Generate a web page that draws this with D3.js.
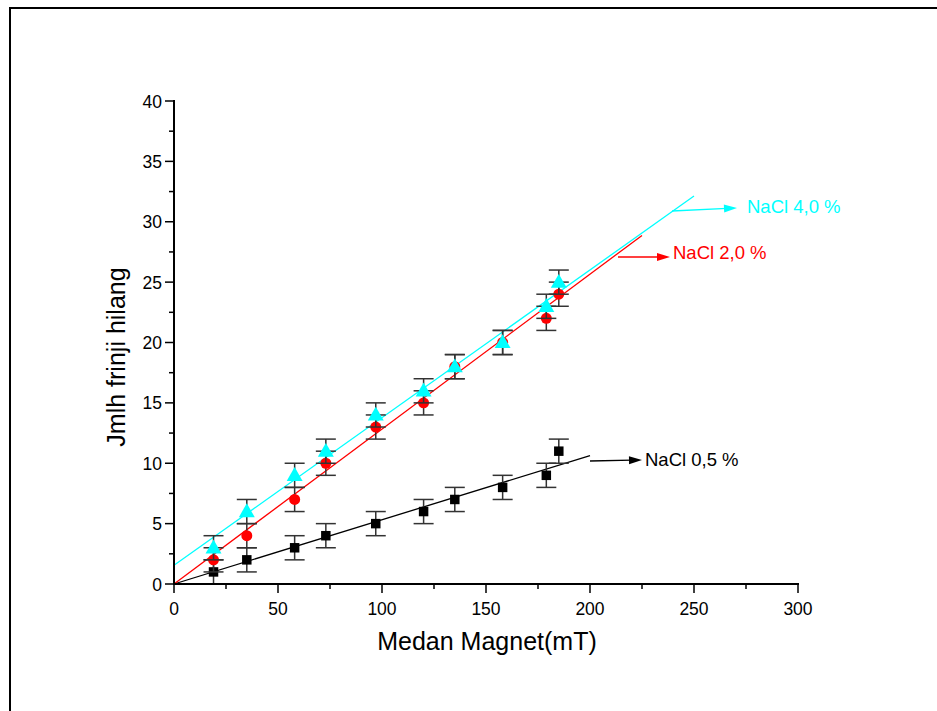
<!DOCTYPE html>
<html>
<head>
<meta charset="utf-8">
<script src="https://cdn.jsdelivr.net/npm/d3@7"></script>
<style>
  body { margin: 0; background: #fff; }
  svg { display: block; font-family: "Liberation Sans", Arial, sans-serif; }
</style>
</head>
<body>
<div id="chart"></div>
<script>
// magnetic field (mT) for every measurement
var medan = [19, 35, 58, 73, 97, 120, 135, 158, 179, 185];
// lost fringes per NaCl concentration
var nacl05 = [1, 2, 3, 4, 5, 6, 7, 8, 9, 11];
var nacl20 = [2, 4, 7, 10, 13, 15, 18, 20, 22, 24];
var nacl40 = [3, 6, 9, 11, 14, 16, 18, 20, 23, 25];
var errY = 1;
// linear fit: [slope, intercept, x end]
var fit05 = [0.0532, 0, 200];
var fit20 = [0.1283, 0, 225];
var fit40 = [0.1223, 1.55, 250];
var xTicks = [0, 50, 100, 150, 200, 250, 300];
var yTicks = [0, 5, 10, 15, 20, 25, 30, 35, 40];

var width = 937, height = 711;
var svg = d3.select('#chart').append('svg')
  .attr('width', width)
  .attr('height', height);

// outer frame (only top and left edges visible)
svg.append('path')
  .attr('d', 'M10,711 V8 H937')
  .attr('fill', 'none')
  .attr('stroke', '#000')
  .attr('stroke-width', 2);

var x = d3.scaleLinear().domain([0, 300]).range([174, 798]);
var y = d3.scaleLinear().domain([0, 40]).range([584, 101]);

var series = [
  { vals: nacl05, fit: fit05, color: '#000000', shape: d3.symbolSquare, size: 90, name: 'NaCl 0,5 %' },
  { vals: nacl20, fit: fit20, color: '#ff0000', shape: d3.symbolCircle, size: 95, name: 'NaCl 2,0 %' },
  { vals: nacl40, fit: fit40, color: '#00ffff', shape: d3.symbolTriangle, size: 110, name: 'NaCl 4,0 %' }
];

// fit lines
series.forEach(function(s) {
  svg.append('line')
    .attr('x1', x(0)).attr('y1', y(s.fit[1]))
    .attr('x2', x(s.fit[2])).attr('y2', y(s.fit[1] + s.fit[0] * s.fit[2]))
    .attr('stroke', s.color)
    .attr('stroke-width', 1.3);
});

// error bars + markers
series.forEach(function(s) {
  var g = svg.append('g');
  s.vals.forEach(function(v, i) {
    var cx = x(medan[i]);
    g.append('line')
      .attr('x1', cx).attr('x2', cx)
      .attr('y1', y(v - errY)).attr('y2', y(v + errY))
      .attr('stroke', '#333').attr('stroke-width', 1.5);
    [v - errY, v + errY].forEach(function(e) {
      g.append('line')
        .attr('x1', cx - 10).attr('x2', cx + 10)
        .attr('y1', y(e)).attr('y2', y(e))
        .attr('stroke', '#333').attr('stroke-width', 1.5);
    });
  });
  g.selectAll('path.pt').data(s.vals).enter().append('path')
    .attr('class', 'pt')
    .attr('d', d3.symbol().type(s.shape).size(s.size))
    .attr('transform', function(d, i) {
      var dy = s.shape === d3.symbolTriangle ? 1 : 0;
      return 'translate(' + x(medan[i]) + ',' + (y(d) + dy) + ')';
    })
    .attr('fill', s.color);
});

// axes
var xAxis = svg.append('g').attr('transform', 'translate(0,584)');
xAxis.append('line').attr('x1', 173).attr('x2', 799).attr('y1', 0).attr('y2', 0)
  .attr('stroke', '#000').attr('stroke-width', 2);
d3.range(0, 301, 25).forEach(function(t) {
  xAxis.append('line').attr('x1', x(t)).attr('x2', x(t)).attr('y1', 0)
    .attr('y2', t % 50 === 0 ? 9 : 5)
    .attr('stroke', '#000').attr('stroke-width', 1.5);
});
xAxis.selectAll('text').data(xTicks).enter().append('text')
  .attr('x', function(d) { return x(d); })
  .attr('y', 31)
  .attr('text-anchor', 'middle')
  .attr('font-size', 17.5)
  .text(function(d) { return d; });

var yAxis = svg.append('g').attr('transform', 'translate(174,0)');
yAxis.append('line').attr('x1', 0).attr('x2', 0).attr('y1', 100).attr('y2', 585)
  .attr('stroke', '#000').attr('stroke-width', 2);
d3.range(0, 40.1, 2.5).forEach(function(t) {
  yAxis.append('line').attr('x1', 0).attr('x2', t % 5 === 0 ? -9 : -5)
    .attr('y1', y(t)).attr('y2', y(t))
    .attr('stroke', '#000').attr('stroke-width', 1.5);
});
yAxis.selectAll('text').data(yTicks).enter().append('text')
  .attr('x', -12)
  .attr('y', function(d) { return y(d) + 6.5; })
  .attr('text-anchor', 'end')
  .attr('font-size', 17.5)
  .text(function(d) { return d; });

// axis titles
svg.append('text')
  .attr('x', 487).attr('y', 650)
  .attr('text-anchor', 'middle')
  .attr('font-size', 25)
  .text('Medan Magnet(mT)');
svg.append('text')
  .attr('transform', 'translate(125,357) rotate(-90)')
  .attr('text-anchor', 'middle')
  .attr('font-size', 25)
  .text('Jmlh frinji hilang');

// labels with arrows
var labels = [
  { s: series[0], x1: 590, y1: 461, x2: 642, y2: 460, tx: 645, ty: 466 },
  { s: series[1], x1: 618, y1: 257, x2: 670, y2: 257, tx: 673, ty: 259 },
  { s: series[2], x1: 672, y1: 211, x2: 737, y2: 208, tx: 747, ty: 213 }
];
labels.forEach(function(l) {
  var ang = Math.atan2(l.y2 - l.y1, l.x2 - l.x1);
  svg.append('line')
    .attr('x1', l.x1).attr('y1', l.y1).attr('x2', l.x2 - 10 * Math.cos(ang)).attr('y2', l.y2 - 10 * Math.sin(ang))
    .attr('stroke', l.s.color).attr('stroke-width', 1.3);
  svg.append('path')
    .attr('d', 'M0,0 L-13,-4 L-13,4 Z')
    .attr('transform', 'translate(' + l.x2 + ',' + l.y2 + ') rotate(' + (ang * 180 / Math.PI) + ')')
    .attr('fill', l.s.color);
  svg.append('text')
    .attr('x', l.tx).attr('y', l.ty)
    .attr('font-size', 18.5)
    .attr('fill', l.s.color)
    .text(l.s.name);
});
</script>
</body>
</html>
